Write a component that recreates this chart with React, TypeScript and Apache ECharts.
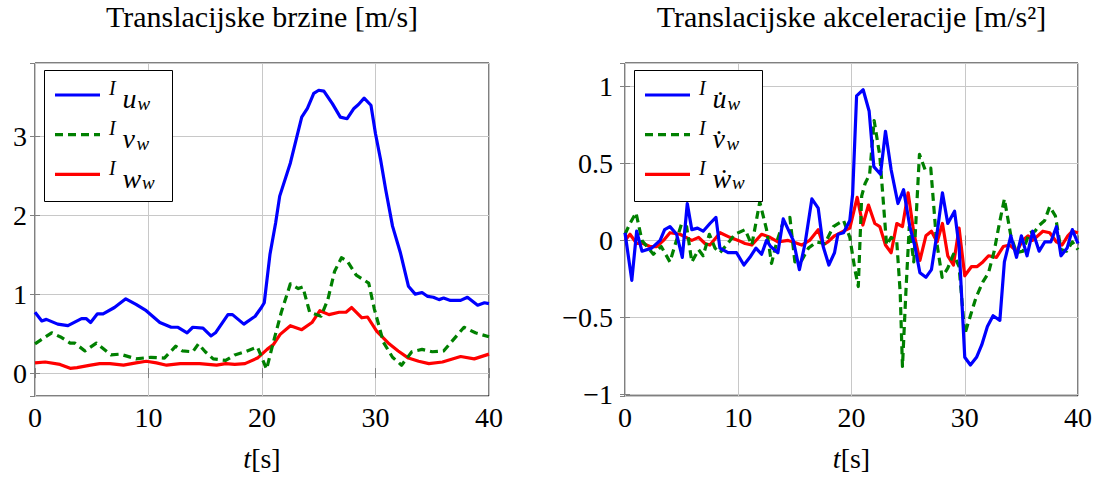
import React, { useEffect, useRef } from "react";
import * as echarts from "echarts";

// ---------- data ----------
const xTicks = [0, 10, 20, 30, 40];

const uW: [number, number][] = [
  [0, 0.77], [0.6, 0.66], [1, 0.68], [2, 0.62], [2.9, 0.6], [4.1, 0.69], [4.5, 0.69], [4.9, 0.64],
  [5.5, 0.75], [6, 0.75], [7, 0.83], [8, 0.94], [8.9, 0.87], [9.8, 0.79], [11, 0.64], [12, 0.58],
  [12.6, 0.58], [13.4, 0.51], [13.9, 0.58], [14.8, 0.57], [15.5, 0.47], [15.9, 0.51], [17, 0.74],
  [17.4, 0.74], [18.4, 0.62], [19.4, 0.72], [19.9, 0.82], [20.2, 0.89], [20.7, 1.5], [21.2, 1.9],
  [21.56, 2.24], [22.5, 2.66], [23.1, 3.01], [23.5, 3.24], [24, 3.35], [24.56, 3.54], [25, 3.58],
  [25.45, 3.57], [26.2, 3.41], [26.9, 3.24], [27.5, 3.22], [28.1, 3.35], [28.5, 3.4], [29, 3.48],
  [29.6, 3.39], [30, 3.03], [30.45, 2.7], [30.9, 2.32], [31.5, 1.86], [32.2, 1.52], [32.9, 1.1],
  [33.5, 1.0], [34.1, 1.02], [34.6, 0.97], [35.1, 0.96], [35.6, 0.93], [36, 0.95], [36.6, 0.92],
  [37.5, 0.92], [38.1, 0.96], [39, 0.86], [39.6, 0.89], [40, 0.88],
];
const vW: [number, number][] = [
  [0, 0.37], [1.47, 0.51], [2.35, 0.45], [3.1, 0.38], [3.5, 0.38], [4.4, 0.28], [5.4, 0.38],
  [6.7, 0.23], [7.5, 0.24], [8.9, 0.18], [10.2, 0.2], [11.4, 0.19], [12.4, 0.34], [13, 0.28],
  [13.9, 0.27], [14.4, 0.37], [15, 0.27], [15.7, 0.18], [16.8, 0.16], [17.6, 0.23], [18.5, 0.27],
  [19.6, 0.33], [20.4, 0.05], [21, 0.39], [21.7, 0.77], [22.5, 1.13], [23.2, 1.07], [23.6, 1.09],
  [24.2, 0.77], [25.2, 0.72], [25.8, 0.93], [26.4, 1.29], [27, 1.46], [27.5, 1.42], [28.3, 1.24],
  [29.4, 1.14], [29.9, 0.81], [30.7, 0.39], [31.5, 0.2], [32.3, 0.1], [33.2, 0.27], [34.1, 0.3],
  [35, 0.27], [36, 0.28], [36.9, 0.43], [37.8, 0.58], [38.8, 0.51], [40, 0.46],
];
const wW: [number, number][] = [
  [0, 0.13], [0.9, 0.14], [2.2, 0.11], [3.1, 0.06], [3.7, 0.07], [4.9, 0.1], [5.7, 0.12], [6.6, 0.12],
  [7.8, 0.1], [8.9, 0.13], [9.8, 0.15], [10.7, 0.13], [11.6, 0.1], [12.8, 0.12], [14.5, 0.12],
  [16, 0.1], [16.8, 0.12], [17.6, 0.11], [18.5, 0.12], [19.6, 0.19], [20.45, 0.3], [21, 0.36],
  [21.6, 0.49], [22.5, 0.6], [23.5, 0.55], [24.4, 0.64], [25.1, 0.79], [25.9, 0.74], [26.8, 0.77],
  [27.4, 0.77], [27.9, 0.83], [28.8, 0.7], [29.3, 0.71], [30.1, 0.53], [31.2, 0.37], [32, 0.28],
  [32.9, 0.19], [33.8, 0.15], [34.7, 0.12], [35.9, 0.14], [37.5, 0.21], [38.7, 0.18], [40, 0.24],
];

const uDot: [number, number][] = [
  [0, 0.05], [0.6, -0.26], [1.03, 0.06], [1.5, -0.07], [2.35, -0.05], [3.1, 0], [3.5, 0.07],
  [3.97, 0.09], [4.56, 0.04], [5.06, -0.11], [5.5, 0.24], [5.9, 0.07], [6.4, 0.08], [6.9, 0.06],
  [7.5, 0.11], [8.03, 0.15], [8.38, -0.05], [9.1, -0.08], [9.85, -0.08], [10.5, -0.16], [11.03, -0.11],
  [11.56, -0.05], [12.06, -0.09], [12.5, 0], [12.86, -0.04], [13.5, -0.08], [13.97, 0.14], [14.86, 0],
  [15.4, -0.19], [15.9, -0.02], [16.5, 0.27], [17.06, 0.21], [17.5, -0.04], [18, -0.16], [18.5, -0.08],
  [18.8, 0.04], [19.3, 0.05], [19.85, 0.13], [20.1, 0.3], [20.45, 0.94], [21.03, 0.98], [21.56, 0.84],
  [21.97, 0.48], [22.56, 0.43], [23, 0.71], [23.5, 0.46], [24.1, 0.24], [24.6, 0.33], [25.15, 0.09],
  [25.6, -0.04], [26.04, -0.21], [26.57, -0.24], [27.06, -0.19], [27.56, 0.05], [28.03, 0.31],
  [28.5, 0.11], [29.1, 0.19], [29.5, -0.04], [30, -0.76], [30.5, -0.81], [31.04, -0.76], [31.5, -0.68],
  [32, -0.56], [32.5, -0.49], [33.1, -0.52], [33.5, -0.14], [34.07, 0.03], [34.57, -0.11], [35, 0.03],
  [35.5, -0.1], [36, 0.06], [36.57, -0.07], [37.06, -0.01], [37.6, -0.01], [38.1, 0.09], [38.5, -0.1],
  [39.04, -0.05], [39.5, 0.07], [40, -0.02],
];
const vDot: [number, number][] = [
  [0, 0.04], [0.44, 0.11], [0.97, 0.18], [1.5, 0], [2.5, -0.09], [3.2, -0.04], [3.97, -0.14],
  [4.5, -0.01], [5, 0.11], [5.44, 0.09], [5.9, -0.14], [6.5, -0.06], [6.9, -0.1], [7.45, 0.04],
  [7.95, -0.05], [8.38, -0.08], [8.97, -0.03], [9.7, 0.04], [10.6, 0.07], [11.2, -0.03], [11.9, 0.25],
  [12.5, 0.07], [12.94, -0.15], [13.4, -0.01], [13.97, 0.12], [14.56, 0.15], [15, -0.14], [15.6, -0.13],
  [16.2, -0.05], [16.9, -0.01], [17.65, -0.02], [18.4, 0.09], [19.3, 0.13], [19.85, 0.02], [20.3, -0.19],
  [20.6, -0.3], [20.9, 0.29], [21.2, 0.37], [21.6, 0.43], [22, 0.78], [22.5, 0.55], [22.8, 0.26],
  [23.1, -0.03], [23.5, 0.02], [24, -0.01], [24.3, -0.34], [24.5, -0.82], [24.8, -0.34], [25.1, 0.09],
  [25.5, -0.14], [26, 0.56], [26.5, 0.46], [27, 0.47], [27.5, 0], [28, -0.24], [28.5, -0.18],
  [29, -0.09], [29.5, -0.17], [30, -0.61], [30.5, -0.49], [31, -0.37], [31.6, -0.27], [32.1, -0.21],
  [32.6, -0.07], [33.03, 0.1], [33.5, 0.27], [34.07, 0.03], [34.57, -0.08], [35.15, -0.07], [35.7, 0.05],
  [36.2, 0.06], [36.6, 0.1], [37.06, 0.13], [37.5, 0.22], [38, 0.16], [38.5, -0.06], [39, -0.07],
  [39.5, -0.01], [40, -0.06],
];
const wDot: [number, number][] = [
  [0, 0], [0.44, 0.04], [1.03, -0.02], [1.6, -0.02], [2.2, -0.04], [2.8, -0.04], [3.4, 0], [3.97, 0.05],
  [4.85, 0.04], [5.9, 0], [6.5, 0.02], [7.06, -0.02], [7.5, -0.03], [8.4, 0.05], [9.26, 0.02], [10, 0],
  [10.6, -0.02], [11.2, -0.03], [12.06, 0.04], [12.8, 0.02], [13.5, -0.01], [14.4, 0], [14.86, -0.01],
  [15.6, -0.03], [16.3, 0], [17.06, 0.07], [17.5, -0.03], [17.9, -0.01], [18.5, 0.03], [19.3, 0.06],
  [19.85, 0.08], [20.5, 0.28], [21, 0.1], [21.5, 0.23], [22.06, 0.11], [22.5, 0.09], [23, -0.03],
  [23.5, -0.08], [24, 0.11], [24.5, 0.09], [25, 0.31], [25.5, 0.05], [26.04, -0.13], [26.57, 0.03],
  [27.06, 0.06], [27.56, -0.01], [28.03, 0.11], [28.5, -0.1], [29, -0.16], [29.5, 0.08], [30, -0.23],
  [30.6, -0.17], [31.1, -0.17], [31.6, -0.14], [32.1, -0.1], [32.8, -0.11], [33.4, -0.04], [33.97, -0.03],
  [34.6, -0.07], [35.1, 0], [35.6, 0.03], [36, 0], [36.9, 0.06], [37.5, 0.05], [38.1, -0.01],
  [38.6, -0.03], [39.1, 0.03], [39.5, 0.06], [40, 0.05],
];

const titles = ["Translacijske brzine [m/s]", "Translacijske akceleracije [m/s²]"];
const leftLetters = ["u", "v", "w"];
const rightLetters = ["u\u0307", "v\u0307", "\u1e87"];
const seriesColors = ["#0000ff", "#008000", "#ff0000"];
const seriesDash: (number[] | "solid")[] = ["solid", [8, 5], "solid"];

// ---------- styling ----------
const SERIF = "'Liberation Serif', 'DejaVu Serif', serif";
const G = [
  { left: 35, top: 63, width: 454, height: 334, ymin: -0.29, ymax: 3.925 },
  { left: 625, top: 63, width: 453, height: 333, ymin: -1.012, ymax: 1.154 },
];
const SUB_X = [137.5, 136.5, 142];

const fmt = (v: number) => {
  const r = Math.round(v * 1000) / 1000;
  return r < 0 ? "\u2212" + String(Math.abs(r)) : String(r);
};

function legendGraphics(dx: number, letters: string[]) {
  const els: any[] = [];
  els.push({
    type: "rect",
    z: 100,
    shape: { x: 44.5 + dx, y: 70.5, width: 128, height: 131 },
    style: { fill: "#fff", stroke: "#000", lineWidth: 1 },
  });
  letters.forEach((L, i) => {
    const off = i * 39.7;
    const lineY = 95 + off;
    els.push({
      type: "line",
      z: 101,
      shape: { x1: 55 + dx, y1: lineY, x2: 100 + dx, y2: lineY },
      style: {
        stroke: seriesColors[i],
        lineWidth: 3.2,
        lineDash: seriesDash[i] === "solid" ? null : seriesDash[i],
      },
    });
    const base1 = 95 + off; // baseline of I
    const base2 = 108.3 + off; // baseline of main letter
    const base3 = 110 + off; // baseline of subscript
    els.push({
      type: "text",
      z: 101,
      style: {
        text: "I",
        x: 109 + dx,
        y: base1 - 0.3375 * 20,
        font: `italic 20px ${SERIF}`,
        fill: "#000",
        align: "left",
        verticalAlign: "middle",
      },
    });
    els.push({
      type: "text",
      z: 101,
      style: {
        text: L,
        x: 122.5 + dx,
        y: base2 - 0.3375 * 28,
        font: `italic 28px ${SERIF}`,
        fill: "#000",
        align: "left",
        verticalAlign: "middle",
      },
    });
    els.push({
      type: "text",
      z: 101,
      style: {
        text: "w",
        x: SUB_X[i] + dx,
        y: base3 - 0.3375 * 19,
        font: `italic 19px ${SERIF}`,
        fill: "#000",
        align: "left",
        verticalAlign: "middle",
      },
    });
  });
  return els;
}

function buildOption(): any {
  const grids = G.map((g) => ({
    left: g.left,
    top: g.top,
    width: g.width,
    height: g.height,
    show: true,
    borderColor: "#000",
    borderWidth: 1,
    backgroundColor: "transparent",
  }));

  const labelStyle = { fontFamily: SERIF, fontSize: 28, color: "#000" };
  const xAxes: any[] = [];
  const yAxes: any[] = [];
  G.forEach((g, gi) => {
    xAxes.push({
      type: "value",
      gridIndex: gi,
      position: "bottom",
      min: xTicks[0],
      max: xTicks[xTicks.length - 1],
      interval: 10,
      axisLine: { show: false },
      axisTick: { show: true, inside: true, length: 5, lineStyle: { color: "#808080" } },
      splitLine: { show: true, lineStyle: { color: "#c8c8c8", width: 1 } },
      axisLabel: { ...labelStyle, margin: 7, formatter: (v: number) => fmt(v) },
      name: "{i|t}{n|[s]}",
      nameLocation: "middle",
      nameGap: 48,
      nameTextStyle: {
        rich: {
          i: { fontFamily: SERIF, fontSize: 28, fontStyle: "italic", color: "#000" },
          n: { fontFamily: SERIF, fontSize: 28, color: "#000" },
        },
      },
    });
    xAxes.push({
      type: "value",
      gridIndex: gi,
      position: "top",
      min: xTicks[0],
      max: xTicks[xTicks.length - 1],
      interval: 10,
      axisLine: { show: false },
      axisTick: { show: true, inside: true, length: 5, lineStyle: { color: "#808080" } },
      splitLine: { show: false },
      axisLabel: { show: false },
    });
    const step = gi === 0 ? 1 : 0.5;
    const yLab = (v: number) => {
      const k = v / step;
      if (Math.abs(k - Math.round(k)) > 1e-6) return "";
      return fmt(v);
    };
    yAxes.push({
      type: "value",
      gridIndex: gi,
      position: "left",
      min: g.ymin,
      max: g.ymax,
      splitNumber: 5,
      axisLine: { show: false },
      axisTick: { show: true, inside: true, length: 5, lineStyle: { color: "#808080" } },
      splitLine: { show: true, lineStyle: { color: "#c8c8c8", width: 1 } },
      axisLabel: {
        ...labelStyle,
        margin: gi === 0 ? 8 : 12,
        showMinLabel: false,
        showMaxLabel: false,
        formatter: yLab,
      },
    });
    yAxes.push({
      type: "value",
      gridIndex: gi,
      position: "right",
      min: g.ymin,
      max: g.ymax,
      splitNumber: 5,
      axisLine: { show: false },
      axisTick: { show: true, inside: true, length: 5, lineStyle: { color: "#808080" } },
      splitLine: { show: false },
      axisLabel: { show: false },
    });
  });

  const mk = (name: string, data: [number, number][], ci: number, gi: number) => ({
    name,
    type: "line",
    xAxisIndex: gi * 2,
    yAxisIndex: gi * 2,
    data,
    showSymbol: false,
    symbol: "none",
    lineStyle: { width: 3.2, color: seriesColors[ci], type: seriesDash[ci], cap: "butt", join: "round" },
    itemStyle: { color: seriesColors[ci] },
    z: 2 + (3 - ci),
  });

  return {
    animation: false,
    backgroundColor: "#fff",
    title: titles.map((t, i) => ({
      text: t,
      left: G[i].left + G[i].width / 2,
      top: 1,
      textAlign: "center",
      padding: 0,
      textStyle: { fontFamily: SERIF, fontSize: 30, fontWeight: "normal", color: "#000" },
    })),
    grid: grids,
    xAxis: xAxes,
    yAxis: yAxes,
    series: [
      mk("uw", uW, 0, 0),
      mk("vw", vW, 1, 0),
      mk("ww", wW, 2, 0),
      mk("uwdot", uDot, 0, 1),
      mk("vwdot", vDot, 1, 1),
      mk("wwdot", wDot, 2, 1),
    ],
    graphic: [...legendGraphics(0, leftLetters), ...legendGraphics(590, rightLetters)],
  };
}

export default function App() {
  const ref = useRef<HTMLDivElement>(null);
  useEffect(() => {
    if (!ref.current) return;
    const chart = echarts.init(ref.current, undefined, { renderer: "svg" });
    chart.setOption(buildOption());
    return () => chart.dispose();
  }, []);
  return (
    <div
      ref={ref}
      style={{ position: "absolute", left: 0, top: 0, width: 1100, height: 477, background: "#fff" }}
    />
  );
}
